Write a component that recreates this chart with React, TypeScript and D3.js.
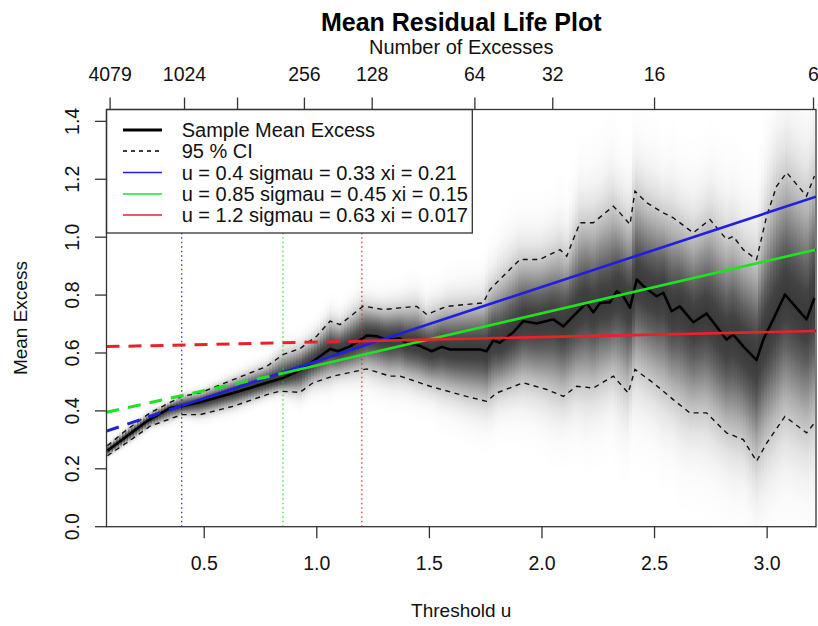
import React from 'react';
import * as d3 from 'd3';

// ---------- data ----------
const MEAN_U = [0.07, 0.156, 0.245, 0.348, 0.40, 0.481, 0.629, 0.778, 0.851, 0.925, 0.983, 1.059, 1.094, 1.148, 1.222, 1.266, 1.310, 1.370, 1.399, 1.444, 1.510, 1.555, 1.592, 1.725, 1.754, 1.784, 1.813, 1.873, 1.917, 1.976, 2.050, 2.095, 2.139, 2.198, 2.228, 2.258, 2.302, 2.332, 2.361, 2.391, 2.421, 2.450, 2.480, 2.509, 2.539, 2.576, 2.612, 2.672, 2.731, 2.820, 2.849, 2.894, 2.953, 2.983, 3.027, 3.079, 3.175, 3.210];
const MEAN_V = [0.262, 0.312, 0.364, 0.41, 0.416, 0.43, 0.462, 0.497, 0.514, 0.54, 0.571, 0.614, 0.606, 0.623, 0.66, 0.658, 0.646, 0.65, 0.633, 0.629, 0.606, 0.621, 0.612, 0.612, 0.606, 0.644, 0.635, 0.672, 0.71, 0.702, 0.716, 0.692, 0.727, 0.773, 0.741, 0.773, 0.775, 0.813, 0.796, 0.756, 0.854, 0.831, 0.813, 0.796, 0.808, 0.744, 0.761, 0.706, 0.736, 0.646, 0.664, 0.623, 0.575, 0.646, 0.716, 0.802, 0.716, 0.79];

const UPPER_U = [0.07, 0.156, 0.259, 0.400, 0.481, 0.629, 0.778, 0.851, 0.925, 0.999, 1.059, 1.103, 1.206, 1.295, 1.370, 1.444, 1.488, 1.577, 1.739, 1.769, 1.813, 1.902, 1.991, 2.080, 2.110, 2.139, 2.169, 2.228, 2.317, 2.346, 2.391, 2.413, 2.465, 2.539, 2.583, 2.672, 2.746, 2.820, 2.849, 2.894, 2.953, 2.998, 3.042, 3.087, 3.175, 3.210];
const UPPER_V = [0.28, 0.335, 0.393, 0.45, 0.462, 0.508, 0.554, 0.595, 0.615, 0.658, 0.71, 0.698, 0.762, 0.75, 0.756, 0.761, 0.733, 0.761, 0.773, 0.819, 0.854, 0.923, 0.923, 0.957, 0.934, 0.992, 1.05, 1.05, 1.107, 1.084, 1.044, 1.159, 1.119, 1.084, 1.067, 1.015, 1.061, 0.992, 1.003, 0.957, 0.923, 1.073, 1.176, 1.223, 1.142, 1.211];

const LOWER_U = [0.07, 0.156, 0.259, 0.400, 0.481, 0.629, 0.778, 0.836, 0.925, 0.983, 1.073, 1.222, 1.325, 1.370, 1.458, 1.503, 1.665, 1.754, 1.799, 1.917, 2.021, 2.095, 2.154, 2.228, 2.317, 2.383, 2.413, 2.494, 2.583, 2.657, 2.731, 2.820, 2.894, 2.953, 2.998, 3.079, 3.175, 3.210];
const LOWER_V = [0.245, 0.29, 0.347, 0.387, 0.387, 0.416, 0.456, 0.468, 0.464, 0.497, 0.52, 0.545, 0.52, 0.52, 0.497, 0.485, 0.45, 0.433, 0.462, 0.497, 0.474, 0.45, 0.485, 0.479, 0.52, 0.462, 0.543, 0.497, 0.439, 0.393, 0.393, 0.324, 0.301, 0.226, 0.289, 0.381, 0.324, 0.358];

// fitted GPD mean-excess lines: [u, value] (dashed from 1st to 2nd point, solid from 2nd to 3rd)
const FIT_BLUE: [number, number][] = [[0.066, 0.33], [0.4, 0.418], [3.217, 1.14]];
const FIT_GREEN: [number, number][] = [[0.066, 0.395], [0.85, 0.53], [3.217, 0.957]];
const FIT_RED: [number, number][] = [[0.066, 0.622], [1.2, 0.641], [3.217, 0.676]];
const THRESHOLDS = [0.4, 0.85, 1.2];

const X_TICKS = [0.5, 1.0, 1.5, 2.0, 2.5, 3.0];
const X_TICK_LABELS = ['0.5', '1.0', '1.5', '2.0', '2.5', '3.0'];
const Y_TICKS = [0, 0.2, 0.4, 0.6, 0.8, 1.0, 1.2, 1.4];
const Y_TICK_LABELS = ['0.0', '0.2', '0.4', '0.6', '0.8', '1.0', '1.2', '1.4'];
const TOP_TICK_U = [0.082, 0.4125, 0.648, 0.945, 1.246, 1.702, 2.048, 2.5, 3.206];
const TOP_TICK_LABELS = ['4079', '1024', '', '256', '128', '64', '32', '16', '6'];

const LEGEND_LABELS = ['Sample Mean Excess', '95 % CI', 'u = 0.4 sigmau = 0.33 xi = 0.21', 'u = 0.85 sigmau = 0.45 xi = 0.15', 'u = 1.2 sigmau = 0.63 xi = 0.017'];

const BLUE = '#1f1fe0';
const GREEN = '#22e022';
const RED = '#e82228';
const FIT_COLORS = [BLUE, GREEN, RED];

// ---------- layout ----------
const W = 818, H = 626;
const PL = 106.5, PR = 816, PT = 109.5, PB = 526.7;
const FONT = "'Liberation Sans', Arial, Helvetica, sans-serif";
const TICK_FS = 19.5;

const x = d3.scaleLinear().domain([0.066, 3.217]).range([PL, PR]);
const y = d3.scaleLinear().domain([0, 1.441]).range([PB, PT]);

function interp(us: number[], vs: number[], u: number) {
  if (u <= us[0]) return vs[0];
  if (u >= us[us.length - 1]) return vs[vs.length - 1];
  const i = d3.bisectRight(us, u);
  const u0 = us[i - 1], u1 = us[i];
  const t = (u - u0) / (u1 - u0);
  return vs[i - 1] + t * (vs[i] - vs[i - 1]);
}

const line = d3.line<[number, number]>().x(d => x(d[0])).y(d => y(d[1]));
const zip = (us: number[], vs: number[]) => us.map((u, i) => [u, vs[i]] as [number, number]);

// shading strips (normal density around the mean, width from the CI)
const STRIP = 3;
const PEAK = 0.78;
const SPREAD = 1.2;
const KS = d3.range(-4, 4.01, 0.4);
const strips: { x0: number; w: number; yTop: number; yBot: number; stops: { off: number; op: number }[] }[] = [];
{
  const xs = Math.floor(x(MEAN_U[0]));
  const xe = Math.ceil(x(MEAN_U[MEAN_U.length - 1]));
  for (let px = xs; px < xe; px += STRIP) {
    const u = x.invert(px + STRIP / 2);
    const m = interp(MEAN_U, MEAN_V, u);
    const up = interp(UPPER_U, UPPER_V, u);
    const lo = interp(LOWER_U, LOWER_V, u);
    const sdU = Math.max((up - m) / 1.96, 0.005);
    const sdL = Math.max((m - lo) / 1.96, 0.005);
    const vTop = m + 4 * sdU;
    const vBot = m - 4 * sdL;
    const yTop = y(vTop), yBot = y(vBot);
    const stops = KS.map(k => {
      const v = k >= 0 ? m + k * sdU : m + k * sdL;
      return { off: (yBot - y(v)) / (yBot - yTop), op: PEAK * Math.exp(-0.5 * (k / SPREAD) ** 2) };
    }).sort((a, b) => a.off - b.off);
    strips.push({ x0: px, w: Math.min(STRIP, xe - px), yTop, yBot, stops });
  }
}

export default function App() {
  const fits = [FIT_BLUE, FIT_GREEN, FIT_RED];
  const legendRows = [130, 151, 172.5, 194, 215];
  return (
    <svg width={W} height={H} style={{ position: 'absolute', left: 0, top: 0, background: '#fff' }} fontFamily={FONT}>
      <defs>
        <clipPath id="plotclip">
          <rect x={PL} y={PT} width={PR - PL} height={PB - PT} />
        </clipPath>
        {strips.map((s, i) => (
          <linearGradient key={i} id={`g${i}`} x1="0" y1="1" x2="0" y2="0">
            {s.stops.map((st, j) => (
              <stop key={j} offset={st.off} stopColor="#000" stopOpacity={st.op} />
            ))}
          </linearGradient>
        ))}
      </defs>
      <rect x={0} y={0} width={W} height={H} fill="#fff" />

      <g clipPath="url(#plotclip)">
        {/* density shading */}
        <g shapeRendering="crispEdges">
          {strips.map((s, i) => (
            <rect key={i} x={s.x0} y={s.yTop} width={s.w} height={s.yBot - s.yTop} fill={`url(#g${i})`} />
          ))}
        </g>
        {/* threshold markers */}
        {THRESHOLDS.map((t, i) => (
          <line key={i} x1={x(t)} x2={x(t)} y1={PB} y2={PT} stroke={FIT_COLORS[i]} strokeWidth={1.2} strokeDasharray="1.5 3" />
        ))}
        {/* CI */}
        <path d={line(zip(UPPER_U, UPPER_V)) || ''} fill="none" stroke="#111" strokeWidth={1.4} strokeDasharray="5 4.5" />
        <path d={line(zip(LOWER_U, LOWER_V)) || ''} fill="none" stroke="#111" strokeWidth={1.4} strokeDasharray="5 4.5" />
        {/* mean excess */}
        <path d={line(zip(MEAN_U, MEAN_V)) || ''} fill="none" stroke="#000" strokeWidth={2.5} strokeLinejoin="round" />
        {/* fitted lines */}
        {fits.map((f, i) => (
          <g key={i}>
            <path d={line([f[0], f[1]]) || ''} fill="none" stroke={FIT_COLORS[i]} strokeWidth={3} strokeDasharray="13 9" />
            <path d={line([f[1], f[2]]) || ''} fill="none" stroke={FIT_COLORS[i]} strokeWidth={2.6} />
          </g>
        ))}
      </g>

      {/* legend */}
      <rect x={PL} y={PT} width={472.3 - PL} height={233 - PT} fill="#fff" stroke="#333" strokeWidth={1.3} />
      {legendRows.map((ly, i) => {
        const stroke = i < 2 ? '#000' : FIT_COLORS[i - 2];
        return (
          <g key={i}>
            <line x1={123} x2={162} y1={ly} y2={ly} stroke={stroke} strokeWidth={i === 0 ? 3 : 1.6} strokeDasharray={i === 1 ? '4 4' : undefined} />
            <text x={181.7} y={ly + 7} fontSize={20} fill="#111">{LEGEND_LABELS[i]}</text>
          </g>
        );
      })}

      {/* plot box */}
      <rect x={PL} y={PT} width={PR - PL} height={PB - PT} fill="none" stroke="#333" strokeWidth={1.3} />

      {/* bottom axis */}
      {X_TICKS.map((t, i) => (
        <g key={i}>
          <line x1={x(t)} x2={x(t)} y1={PB} y2={PB + 11.5} stroke="#333" strokeWidth={1.3} />
          <text x={x(t)} y={569.5} fontSize={TICK_FS} textAnchor="middle" fill="#111">{X_TICK_LABELS[i]}</text>
        </g>
      ))}
      {/* left axis */}
      {Y_TICKS.map((t, i) => (
        <g key={i}>
          <line x1={PL - 11.5} x2={PL} y1={y(t)} y2={y(t)} stroke="#333" strokeWidth={1.3} />
          <text transform={`translate(79,${y(t)}) rotate(-90)`} fontSize={TICK_FS} textAnchor="middle" fill="#111">{Y_TICK_LABELS[i]}</text>
        </g>
      ))}
      {/* top axis */}
      {TOP_TICK_U.map((t, i) => (
        <g key={i}>
          <line x1={x(t)} x2={x(t)} y1={PT} y2={PT - 12} stroke="#333" strokeWidth={1.3} />
          {TOP_TICK_LABELS[i] && (
            <text x={x(t)} y={81} fontSize={TICK_FS} textAnchor="middle" fill="#111">{TOP_TICK_LABELS[i]}</text>
          )}
        </g>
      ))}

      {/* titles */}
      <text x={(PL + PR) / 2} y={31} fontSize={25} fontWeight="bold" textAnchor="middle" fill="#000">Mean Residual Life Plot</text>
      <text x={(PL + PR) / 2} y={54} fontSize={20} textAnchor="middle" fill="#111">Number of Excesses</text>
      <text x={(PL + PR) / 2} y={617} fontSize={19} textAnchor="middle" fill="#111">Threshold u</text>
      <text transform={`translate(27,${(PT + PB) / 2}) rotate(-90)`} fontSize={19} textAnchor="middle" fill="#111">Mean Excess</text>
    </svg>
  );
}
